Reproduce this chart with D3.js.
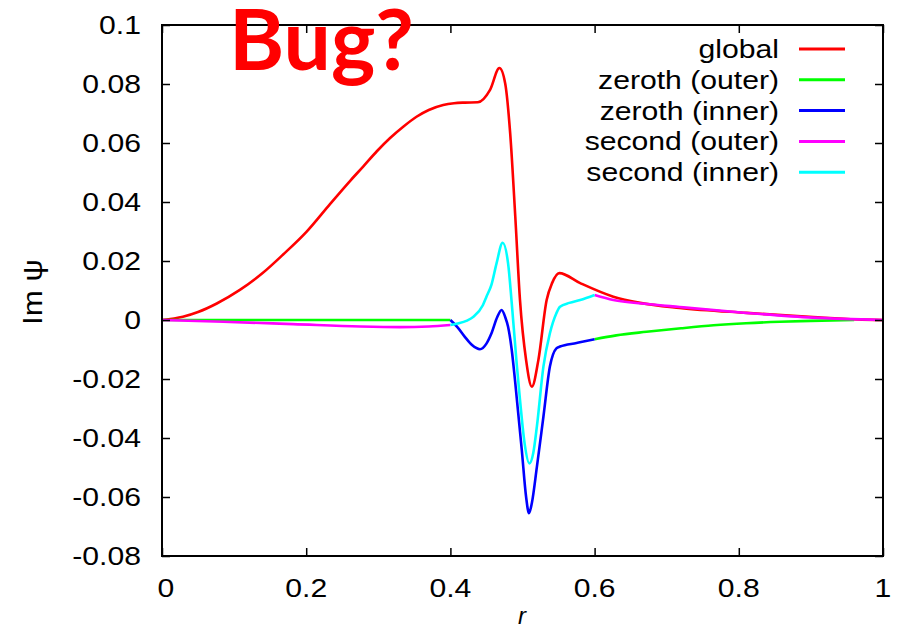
<!DOCTYPE html>
<html><head><meta charset="utf-8">
<script src="https://cdn.jsdelivr.net/npm/d3@7"></script>
<style>body{margin:0;background:#fff}svg{display:block}</style>
</head><body>
<svg id="c" width="899" height="630"></svg>
<script>
const xTicks = [0, 0.2, 0.4, 0.6, 0.8, 1];
const xTickLabels = ["0", "0.2", "0.4", "0.6", "0.8", "1"];
const yTicks = [0.1, 0.08, 0.06, 0.04, 0.02, 0, -0.02, -0.04, -0.06, -0.08];
const yTickLabels = ["0.1", "0.08", "0.06", "0.04", "0.02", "0", "-0.02", "-0.04", "-0.06", "-0.08"];

const globalR = [0,0.029,0.05,0.076,0.108,0.14,0.168,0.2,0.233,0.261,0.279,0.298,0.316,0.335,0.353,0.37,0.39,0.405,0.42,0.438,0.455,0.468,0.476,0.483,0.49,0.4965,0.505,0.513,0.522,0.5335,0.541,0.551,0.58,0.626,0.663,0.718,0.811,0.903,0.964,1];
const globalV = [0,0.0011,0.0027,0.0056,0.0102,0.016,0.0222,0.0298,0.0393,0.0472,0.052,0.0572,0.0616,0.0656,0.0689,0.0712,0.0729,0.0735,0.0737,0.0738,0.078,0.0854,0.0802,0.063,0.035,0.0068,-0.0136,-0.0226,-0.0136,0.0068,0.0125,0.0159,0.0125,0.0079,0.0058,0.0041,0.0024,0.001,0.0002,0];

const zerothOuterR1 = [0, 0.4];
const zerothOuterV1 = [0, 0];
const zerothOuterR2 = [0.6,0.63,0.672,0.72,0.765,0.81,0.857,0.9,0.96];
const zerothOuterV2 = [-0.0065,-0.0052,-0.004,-0.0028,-0.0018,-0.0011,-0.0006,-0.0003,0];

const zerothInnerR = [0.4,0.41,0.42,0.43,0.441,0.45,0.457,0.465,0.471,0.476,0.48,0.485,0.49,0.499,0.505,0.509,0.513,0.52,0.529,0.538,0.547,0.552,0.575,0.6];
const zerothInnerV = [0,-0.0025,-0.0057,-0.0085,-0.0099,-0.008,-0.0045,0.001,0.0034,0.001,-0.0023,-0.01,-0.0214,-0.044,-0.06,-0.0655,-0.062,-0.0497,-0.0328,-0.0158,-0.0096,-0.009,-0.0078,-0.0065];

const secondOuterR1 = [0,0.085,0.182,0.275,0.33,0.37,0.4];
const secondOuterV1 = [0,-0.0006,-0.0014,-0.0022,-0.0024,-0.0022,-0.0017];
const secondOuterR2 = [0.6,0.626,0.67,0.718,0.811,0.903,1];
const secondOuterV2 = [0.0085,0.0068,0.0055,0.0044,0.0024,0.0008,0];

const secondInnerR = [0.4,0.41,0.423,0.432,0.445,0.45,0.457,0.464,0.4725,0.48,0.485,0.492,0.4965,0.503,0.5095,0.515,0.52,0.529,0.538,0.547,0.552,0.565,0.58,0.6];
const secondInnerV = [-0.0017,-0.0012,-0.0002,0.0011,0.005,0.0079,0.012,0.0192,0.0262,0.0192,0.006,-0.015,-0.027,-0.042,-0.0486,-0.045,-0.036,-0.0158,-0.0045,0.0023,0.0045,0.0058,0.0068,0.0085];

const legendNames = ["global", "zeroth (outer)", "zeroth (inner)", "second (outer)", "second (inner)"];
const colors = ["#ff0000", "#00ff00", "#0000ff", "#ff00ff", "#00ffff"];

const svg = d3.select("#c");
const L = 162, R = 883, T = 25, B = 556;
const x = d3.scaleLinear().domain([0, 1]).range([L, R]);
const y = d3.scaleLinear().domain([-0.08, 0.1]).range([B, T]);
const font = "'Liberation Sans', Arial, Helvetica, sans-serif";
const SX = 1.16;

function stext(px, py, str, anchor, size, extra) {
  const t = svg.append("text").attr("transform", `translate(${px},${py}) ${extra || ""} scale(${SX},1)`)
    .attr("text-anchor", anchor).attr("font-family", font).attr("font-size", size).attr("fill", "#000").text(str);
  return t;
}

const zip = (rs, vs) => rs.map((r, i) => [r, vs[i]]);
const line = d3.line().x(d => x(d[0])).y(d => y(d[1])).curve(d3.curveMonotoneX);

const series = [
  {c: 0, segs: [zip(globalR, globalV)]},
  {c: 1, segs: [zip(zerothOuterR1, zerothOuterV1), zip(zerothOuterR2, zerothOuterV2)]},
  {c: 2, segs: [zip(zerothInnerR, zerothInnerV)]},
  {c: 3, segs: [zip(secondOuterR1, secondOuterV1), zip(secondOuterR2, secondOuterV2)]},
  {c: 4, segs: [zip(secondInnerR, secondInnerV)]}
];

series.forEach(s => s.segs.forEach(seg => {
  svg.append("path").attr("d", line(seg)).attr("fill", "none")
    .attr("stroke", colors[s.c]).attr("stroke-width", 2.6).attr("stroke-linejoin", "round");
}));

// axes (ticks inward, mirrored)
const axL = d3.axisLeft(y).tickValues(yTicks).tickSize(-8).tickFormat("");
const axR = d3.axisRight(y).tickValues(yTicks).tickSize(-8).tickFormat("");
const axB = d3.axisBottom(x).tickValues(xTicks).tickSize(-8).tickFormat("");
const axT = d3.axisTop(x).tickValues(xTicks).tickSize(-8).tickFormat("");
[[axL, `translate(${L},0)`], [axR, `translate(${R},0)`], [axB, `translate(0,${B})`], [axT, `translate(0,${T})`]].forEach(([a, t]) => {
  const g = svg.append("g").attr("transform", t).call(a);
  g.select(".domain").remove();
  g.selectAll("line").attr("stroke", "#000").attr("stroke-width", 1.5);
});
svg.append("rect").attr("x", L).attr("y", T).attr("width", R - L).attr("height", B - T)
  .attr("fill", "none").attr("stroke", "#000").attr("stroke-width", 2);

// tick labels
yTicks.forEach((v, i) => stext(141, y(v) + 9, yTickLabels[i], "end", 26));
xTicks.forEach((v, i) => stext(x(v) + (i === 0 ? 4 : 0), 597, xTickLabels[i], "middle", 26));

// axis titles
svg.append("text").attr("x", 522).attr("y", 624).attr("text-anchor", "middle")
  .attr("font-family", font).attr("font-size", 24).attr("font-style", "italic").text("r");
stext(0, 0, "Im ψ", "middle", 27, "").attr("transform", `translate(42,292) rotate(-90) scale(${SX},1)`);

// legend
const legY0 = 49, legDy = 30.8;
legendNames.forEach((n, i) => {
  const yy = legY0 + i * legDy;
  stext(779, yy + 9, n, "end", 26);
  svg.append("line").attr("x1", 799).attr("x2", 845).attr("y1", yy).attr("y2", yy)
    .attr("stroke", colors[i]).attr("stroke-width", 3);
});

// annotation
svg.append("text").attr("x", 229).attr("y", 70).attr("font-family", "Lato, 'Open Sans', sans-serif")
  .attr("font-weight", "bold").attr("font-size", 84).attr("fill", "#ff0000").text("Bug?");
</script>
</body></html>
